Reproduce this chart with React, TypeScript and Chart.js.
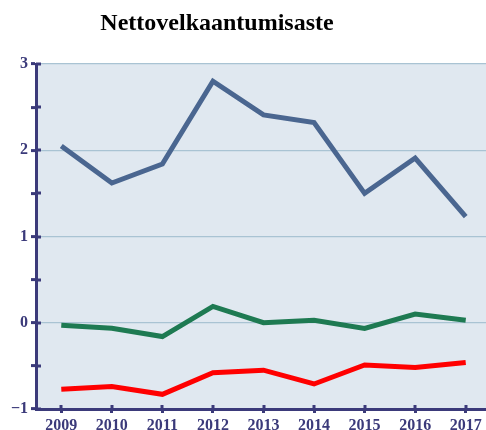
import React, { useEffect, useRef } from "react";
import { Chart, registerables } from "chart.js";

Chart.register(...registerables);

const TITLE = "Nettovelkaantumisaste";
const YEARS = ["2009", "2010", "2011", "2012", "2013", "2014", "2015", "2016", "2017"];
const BLUE_SERIES = [2.05, 1.62, 1.84, 2.8, 2.41, 2.32, 1.5, 1.91, 1.23];
const GREEN_SERIES = [-0.03, -0.065, -0.16, 0.19, 0.0, 0.03, -0.065, 0.1, 0.03];
const RED_SERIES = [-0.77, -0.74, -0.83, -0.58, -0.55, -0.71, -0.49, -0.52, -0.46];
const Y_MIN = -1;
const Y_MAX = 3;
const Y_STEP = 0.5;

const NAVY = "#3b3a7a";
const GRID = "#a9c3d3";
const BG = "#e0e8f0";
const FONT = "'Liberation Serif', 'Times New Roman', serif";

const bgAndTicksPlugin = {
  id: "bgAndTicks",
  beforeDraw(chart: any) {
    const { ctx, chartArea } = chart;
    ctx.save();
    ctx.fillStyle = BG;
    ctx.fillRect(chartArea.left, chartArea.top, chartArea.right - chartArea.left, chartArea.bottom - chartArea.top);
    ctx.restore();
  },
  afterDraw(chart: any) {
    const { ctx, chartArea } = chart;
    const y = chart.scales.y;
    const x = chart.scales.x;
    ctx.save();
    ctx.strokeStyle = NAVY;
    ctx.lineWidth = 3;
    y.ticks.forEach((t: any) => {
      const py = Math.round(y.getPixelForValue(t.value));
      ctx.beginPath();
      ctx.moveTo(chartArea.left, py);
      ctx.lineTo(chartArea.left + 5, py);
      ctx.stroke();
    });
    x.ticks.forEach((_t: any, i: number) => {
      const px = Math.round(x.getPixelForValue(i));
      ctx.beginPath();
      ctx.moveTo(px, chartArea.bottom);
      ctx.lineTo(px, chartArea.bottom - 4);
      ctx.stroke();
    });
    // title
    ctx.fillStyle = "#000";
    ctx.font = `bold 24px ${FONT}`;
    ctx.textAlign = "center";
    ctx.textBaseline = "alphabetic";
    ctx.fillText(TITLE, 217, 29.5);
    ctx.restore();
  },
};

export default function App() {
  const ref = useRef<HTMLCanvasElement | null>(null);
  useEffect(() => {
    document.body.style.margin = "0";
    const canvas = ref.current!;
    const chart = new Chart(canvas, {
      type: "line",
      data: {
        labels: YEARS,
        datasets: [
          { data: BLUE_SERIES, borderColor: "#4a6690", borderWidth: 5, pointRadius: 0, tension: 0, fill: false },
          { data: GREEN_SERIES, borderColor: "#1e7a52", borderWidth: 5, pointRadius: 0, tension: 0, fill: false },
          { data: RED_SERIES, borderColor: "#ff0000", borderWidth: 5, pointRadius: 0, tension: 0, fill: false },
        ],
      },
      options: {
        animation: false,
        responsive: false,
        maintainAspectRatio: false,
        layout: { padding: { top: 64, right: 1, left: 0, bottom: 0 } },
        plugins: { legend: { display: false }, title: { display: false }, tooltip: { enabled: false } },
        scales: {
          x: {
            type: "category",
            offset: true,
            afterFit: (s: any) => { s.height = 21; },
            grid: { drawOnChartArea: false, tickLength: 4, tickColor: NAVY, tickWidth: 3, offset: false },
            border: { display: true, color: NAVY, width: 3 },
            ticks: { color: NAVY, font: { family: FONT, size: 16, weight: "bold" }, padding: 3, maxRotation: 0 },
          },
          y: {
            min: Y_MIN,
            max: Y_MAX,
            afterFit: (s: any) => { s.width = 36; },
            grid: {
              color: (c: any) => (c.tick && Number.isInteger(c.tick.value) ? GRID : "rgba(0,0,0,0)"),
              lineWidth: 1.2,
              tickLength: 5,
              tickColor: NAVY,
              tickWidth: 3,
            },
            border: { display: true, color: NAVY, width: 3 },
            ticks: {
              stepSize: Y_STEP,
              color: NAVY,
              font: { family: FONT, size: 16, weight: "bold" },
              padding: 3,
              callback: (v: any) => {
                const n = Number(v);
                if (!Number.isInteger(n)) return "";
                return n < 0 ? "\u2212" + Math.abs(n) : String(n);
              },
            },
          },
        },
      },
      plugins: [bgAndTicksPlugin],
    });
    return () => chart.destroy();
  }, []);
  return (
    <div style={{ width: 486, height: 430, overflow: "hidden", position: "relative" }}>
      <canvas ref={ref} width={492} height={430} style={{ display: "block", width: 492, height: 430 }} />
    </div>
  );
}
